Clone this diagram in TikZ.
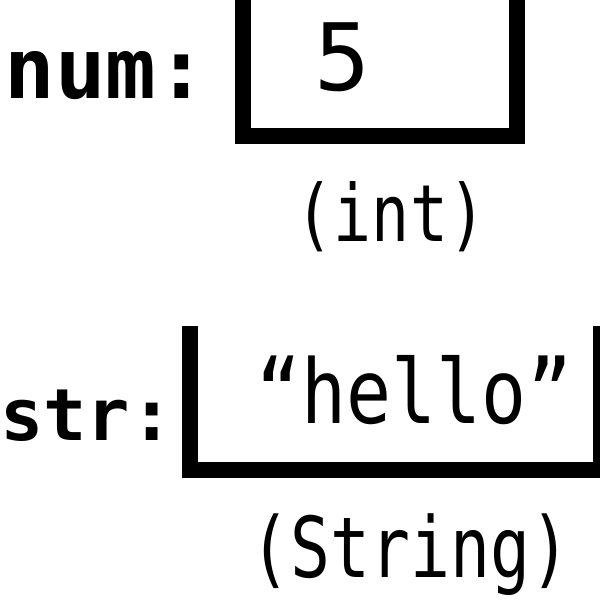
\documentclass[tikz,border=0pt]{standalone}
\usepackage{fontspec}
\newfontfamily\pixfont{DejaVu Sans Mono}
\newfontfamily\pixbold{DejaVu Sans Mono Bold}
\tikzset{
  lbl/.style={anchor=base, inner sep=0pt, font=\pixbold},
  val/.style={anchor=base, inner sep=0pt, font=\pixfont},
  cup/.style={line width=16pt, line join=miter, line cap=butt}
}
\newcommand{\fs}[1]{\fontsize{#1}{#1}\selectfont}
\begin{document}
\begin{tikzpicture}[x=1pt,y=1pt]
\useasboundingbox (0,0) rectangle (600,600);
% num row
\node[lbl] (numlabel) at (106,501) {\fs{84}num:};
\draw[cup] (243,615) -- (243,464) -- (517,464) -- (517,615);
\node[val] (numval) at (342,509) {\fs{93}5};
\node[val] (numtype) at (391,358) {\scalebox{0.8}[1]{\fs{79}(int)}};
% str row
\node[lbl] (strlabel) at (87,159) {\fs{72}str:};
\draw[cup] (190,274) -- (190,129.5) -- (601,129.5) -- (601,274);
\node[val] (strval) at (414.5,176) {\scalebox{0.84}[1]{\fs{89}“hello”}};
\node[val] (strtype) at (410.5,23) {\scalebox{0.79}[1]{\fs{84}(String)}};
\end{tikzpicture}
\end{document}
